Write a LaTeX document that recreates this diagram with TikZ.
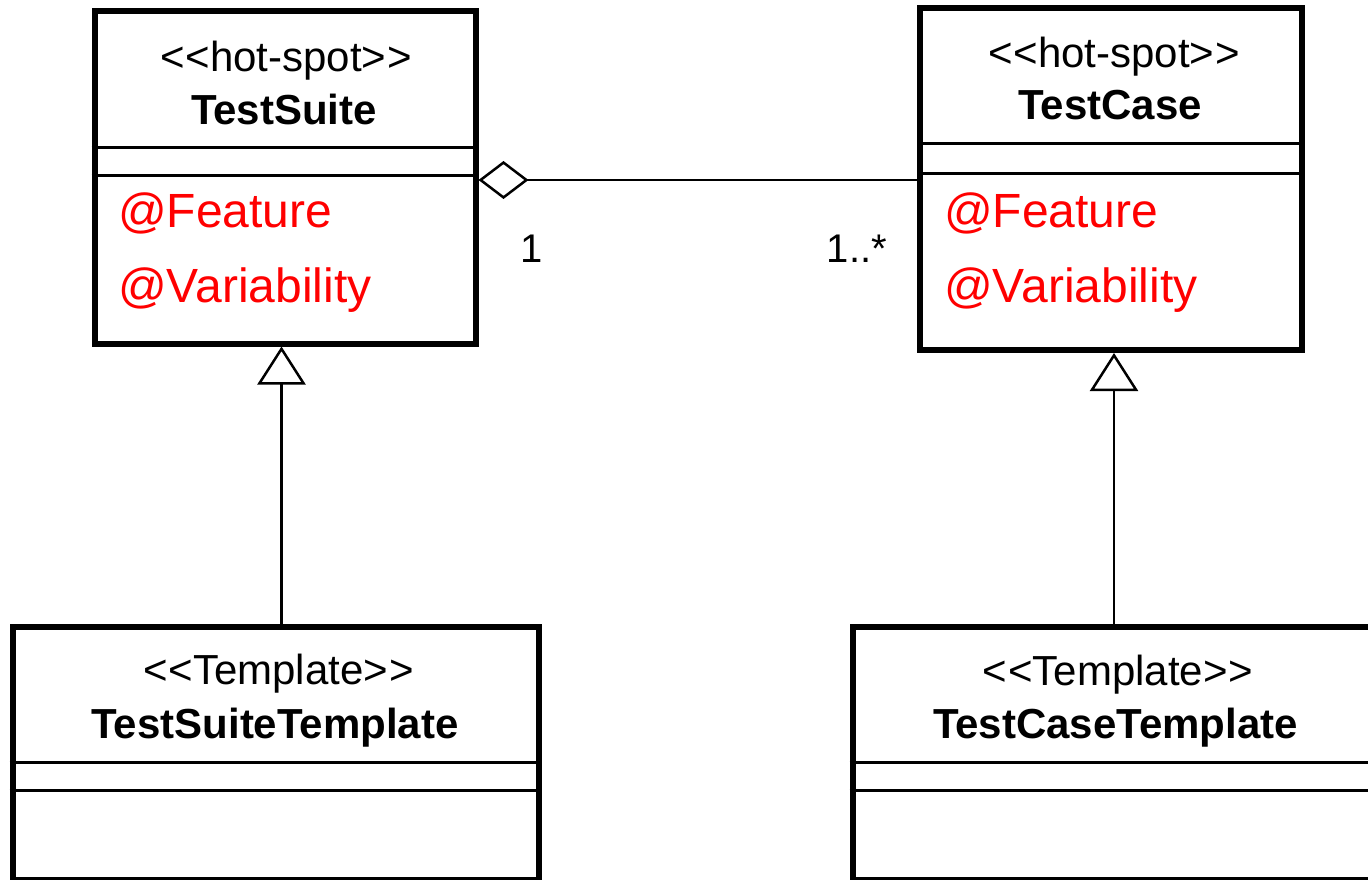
\documentclass[tikz,border=0pt]{standalone}
\usepackage{fontspec}
\setmainfont{Liberation Sans}
\usetikzlibrary{arrows.meta}
\definecolor{annot}{RGB}{255,0,0}
% a kern keeps the two angle brackets from turning into a guillemet
\newcommand{\stlt}{<\kern1pt<}
\newcommand{\stgt}{>\kern1pt>}
\tikzset{
  classbox/.style={draw=black, line width=6pt, rectangle, inner sep=0pt, fill=white},
  compart/.style={draw=black, line width=3pt},
  stereo/.style={anchor=base, inner sep=0pt, font=\fontsize{42}{50}\selectfont},
  cname/.style={anchor=base, inner sep=0pt, font=\fontsize{42}{50}\selectfont\bfseries},
  annotation/.style={anchor=base west, inner sep=0pt, text=annot, font=\fontsize{48}{56}\selectfont},
  mult/.style={anchor=base, inner sep=0pt, font=\fontsize{40}{48}\selectfont},
  aggregation/.style={draw=black, line width=2.5pt, {Diamond[open, length=50pt, width=38pt]}-},
  generalization/.style={draw=black, line width=2.5pt, -{Triangle[open, length=38pt, width=48pt]}}
}
\begin{document}
\begin{tikzpicture}[x=1pt, y=-1pt]
  \useasboundingbox (0,0) rectangle (1368,880);
  \clip (0,0) rectangle (1368,880);

  % class boxes
  \node[classbox, minimum width=381pt, minimum height=332.5pt] (ts) at (285,177.25) {};
  \node[classbox, minimum width=381.5pt, minimum height=341.5pt] (tc) at (1110.75,179.25) {};
  \node[classbox, minimum width=526.5pt, minimum height=253.5pt] (tst) at (275.75,753.25) {};
  \node[classbox, minimum width=525.5pt, minimum height=253.5pt] (tct) at (1115.25,753.25) {};

  % compartment separators
  \draw[compart] (ts.west |- 0,147.5) -- (ts.east |- 0,147.5);
  \draw[compart] (ts.west |- 0,175) -- (ts.east |- 0,175);
  \draw[compart] (tc.west |- 0,144) -- (tc.east |- 0,144);
  \draw[compart] (tc.west |- 0,173) -- (tc.east |- 0,173);
  \draw[compart] (tst.west |- 0,762.5) -- (tst.east |- 0,762.5);
  \draw[compart] (tst.west |- 0,790.5) -- (tst.east |- 0,790.5);
  \draw[compart] (tct.west |- 0,762.5) -- (tct.east |- 0,762.5);
  \draw[compart] (tct.west |- 0,790.5) -- (tct.east |- 0,790.5);

  % TestSuite
  \node[stereo] (tsS) at (286,72) {\stlt hot-spot\stgt};
  \node[cname]  (tsN) at (284,125) {TestSuite};
  \node[annotation] (tsF) at (118,227) {@Feature};
  \node[annotation] (tsV) at (118,302) {@Variability};

  % TestCase
  \node[stereo] (tcS) at (1114,68) {\stlt hot-spot\stgt};
  \node[cname]  (tcN) at (1110,120) {TestCase};
  \node[annotation] (tcF) at (944,227) {@Feature};
  \node[annotation] (tcV) at (944,302) {@Variability};

  % templates
  \node[stereo] (tstS) at (278.5,684) {\stlt Template\stgt};
  \node[cname]  (tstN) at (275,738) {TestSuiteTemplate};
  \node[stereo] (tctS) at (1118,685) {\stlt Template\stgt};
  \node[cname]  (tctN) at (1115.5,738) {TestCaseTemplate};

  % aggregation with multiplicities
  \draw[aggregation] (ts.east |- 0,180) -- (tc.west |- 0,180);
  \node[mult] (m1) at (532,262) {1};
  \node[mult] (mn) at (857,262) {1..*};

  % generalizations
  \draw[generalization] ([xshift=5.75pt]tst.north) -- ([xshift=-3.5pt]ts.south);
  \draw[generalization] ([xshift=-1.25pt]tct.north) -- ([xshift=3.25pt]tc.south);
\end{tikzpicture}
\end{document}
